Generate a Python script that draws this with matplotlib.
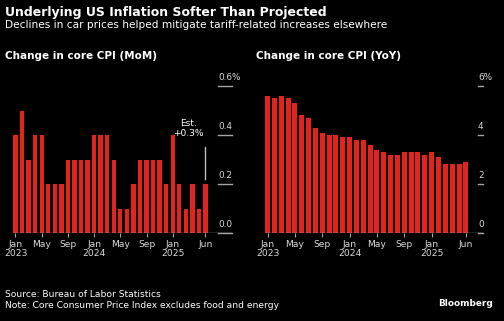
import matplotlib
matplotlib.use('Agg')
import matplotlib.pyplot as plt

# ---- data ----
months = ['Jan 2023', 'Feb 2023', 'Mar 2023', 'Apr 2023', 'May 2023', 'Jun 2023',
          'Jul 2023', 'Aug 2023', 'Sep 2023', 'Oct 2023', 'Nov 2023', 'Dec 2023',
          'Jan 2024', 'Feb 2024', 'Mar 2024', 'Apr 2024', 'May 2024', 'Jun 2024',
          'Jul 2024', 'Aug 2024', 'Sep 2024', 'Oct 2024', 'Nov 2024', 'Dec 2024',
          'Jan 2025', 'Feb 2025', 'Mar 2025', 'Apr 2025', 'May 2025', 'Jun 2025']
mom = [0.4, 0.5, 0.3, 0.4, 0.4, 0.2, 0.2, 0.2, 0.3, 0.3, 0.3, 0.3,
       0.4, 0.4, 0.4, 0.3, 0.1, 0.1, 0.2, 0.3, 0.3, 0.3, 0.3, 0.2,
       0.4, 0.2, 0.1, 0.2, 0.1, 0.2]
yoy = [5.6, 5.5, 5.6, 5.5, 5.3, 4.8, 4.7, 4.3, 4.1, 4.0, 4.0, 3.9,
       3.9, 3.8, 3.8, 3.6, 3.4, 3.3, 3.2, 3.2, 3.3, 3.3, 3.3, 3.2,
       3.3, 3.1, 2.8, 2.8, 2.8, 2.9]
xtick_pos = [0, 4, 8, 12, 16, 20, 24, 29]
xtick_labels = ['Jan\n2023', 'May', 'Sep', 'Jan\n2024', 'May', 'Sep', 'Jan\n2025', 'Jun']
mom_ticks = [0.0, 0.2, 0.4, 0.6]
mom_tick_labels = ['0.0', '0.2', '0.4', '0.6%']
yoy_ticks = [0, 2, 4, 6]
yoy_tick_labels = ['0', '2', '4', '6%']
est_label = 'Est.\n+0.3%'
est_range = [0.22, 0.35]

title = 'Underlying US Inflation Softer Than Projected'
subtitle = 'Declines in car prices helped mitigate tariff-related increases elsewhere'
panel_titles = ['Change in core CPI (MoM)', 'Change in core CPI (YoY)']
source = 'Source: Bureau of Labor Statistics'
note = 'Note: Core Consumer Price Index excludes food and energy'
brand = 'Bloomberg'

# ---- style ----
W, H = 504, 321
BG = 'black'
RED = '#e3231d'
TXT = '#ffffff'
LBL = '#d9d9d9'
LINE = '#a6a6a6'
plt.rcParams['font.family'] = ['DejaVu Sans']

fig = plt.figure(figsize=(W / 100, H / 100), dpi=100, facecolor=BG)


def px_axes(x0, x1, y_top, y_bottom):
    return fig.add_axes([x0 / W, 1 - y_bottom / H, (x1 - x0) / W, (y_bottom - y_top) / H])


def style_axis(ax, ticks, tick_labels, xlim, ylim, label_frac, bar_vals, width):
    ax.set_facecolor(BG)
    x = list(range(len(bar_vals)))
    ax.bar(x, bar_vals, width=width, color=RED, zorder=2)
    ax.set_xlim(*xlim)
    ax.set_ylim(*ylim)
    for s in ax.spines.values():
        s.set_visible(False)
    ax.axhline(0, color=LINE, lw=1.0, zorder=3)
    ax.set_yticks([])
    ax.set_xticks(xtick_pos)
    ax.set_xticklabels(xtick_labels, fontsize=6.6, color=LBL, linespacing=0.95)
    ax.tick_params(axis='x', length=3, width=0.8, color=LINE, pad=2)
    for t, lab in zip(ticks, tick_labels):
        ax.plot([label_frac, 1.0], [t, t], transform=ax.get_yaxis_transform(),
                color=LINE, lw=1.0, clip_on=False, zorder=3)
        ax.annotate(lab, xy=(label_frac, t), xycoords=ax.get_yaxis_transform(),
                    xytext=(0, 4.5), textcoords='offset points',
                    ha='left', va='baseline', fontsize=6.4, color=LBL,
                    annotation_clip=False)


# Left panel (MoM)
ax1 = px_axes(13, 232, 86, 233)
style_axis(ax1, mom_ticks, mom_tick_labels, (-0.38, 33.05), (0, 0.6),
           (218 - 13) / (232 - 13), mom, 0.66)
ax1.plot([29, 29], est_range, color='#bfbfbf', lw=1.0, zorder=3)
ax1.annotate(est_label, xy=(29, est_range[1]), xytext=(-12, 7),
             textcoords='offset points', ha='center', va='bottom',
             fontsize=6.5, color=TXT, linespacing=1.05, multialignment='center')

# Right panel (YoY)
ax2 = px_axes(265, 483.3, 86, 233)
style_axis(ax2, yoy_ticks, yoy_tick_labels, (-0.37, 31.55), (0, 6),
           (478 - 265) / (483.3 - 265), yoy, 0.73)

# ---- texts ----
def ftext(x, y, s, **kw):
    fig.text(x / W, 1 - y / H, s, va='baseline', ha=kw.pop('ha', 'left'), **kw)

ftext(5, 16, title, fontsize=9.0, fontweight='bold', color=TXT)
ftext(5, 28.5, subtitle, fontsize=7.6, color=TXT)
ftext(5, 59, panel_titles[0], fontsize=7.5, fontweight='bold', color=TXT)
ftext(256, 59, panel_titles[1], fontsize=7.5, fontweight='bold', color=TXT)
ftext(5, 297, source, fontsize=6.6, color=TXT)
ftext(5, 307.5, note, fontsize=6.55, color=TXT)
ftext(493, 306, brand, fontsize=6.4, fontweight='bold', color=TXT, ha='right')

fig.savefig('out.png', dpi=100, facecolor=BG)
